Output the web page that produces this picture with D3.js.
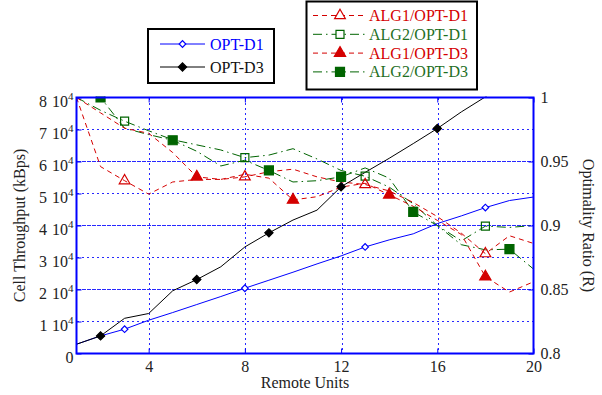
<!DOCTYPE html>
<meta charset="utf-8">
<script src="https://d3js.org/d3.v7.min.js"></script>
<style>
  body { margin: 0; background: #fff; }
  text { font-family: "Liberation Serif", "Times New Roman", serif; font-size: 16px; }
</style>
<div id="chart"></div>
<script>
// remote units (x) and the six series
const units  = [1, 2, 3, 4, 5, 6, 7, 8, 9, 10, 11, 12, 13, 14, 15, 16, 17, 18, 19, 20];
const optD1  = [2900, 5500, 7600, 10400, 12800, 15300, 17800, 20400, 22900, 25400, 28000, 30500, 33300, 35500, 37400, 40600, 43000, 45600, 47800, 48900];
const optD3  = [2900, 5500, 11000, 12500, 19600, 23100, 27100, 33300, 37700, 41700, 44800, 52100, 56600, 61000, 65600, 70300, 75500, 80200, 85000, 90000];
const alg1D1 = [1.0, 0.946, 0.935, 0.9245, 0.934, 0.936, 0.936, 0.938, 0.942, 0.944, 0.938, 0.934, 0.932, 0.927, 0.918, 0.907, 0.894, 0.878, 0.892, 0.886];
const alg2D1 = [1.0, 0.99, 0.9815, 0.974, 0.967, 0.963, 0.959, 0.953, 0.955, 0.96, 0.952, 0.943, 0.9385, 0.93, 0.917, 0.9, 0.888, 0.8995, 0.8985, 0.9];
const alg1D3 = [1.0, 0.988, 0.976, 0.972, 0.957, 0.938, 0.936, 0.94, 0.937, 0.92, 0.9225, 0.93, 0.933, 0.924, 0.915, 0.904, 0.893, 0.86, 0.848, 0.856];
const alg2D3 = [1.0, 1.0, 0.976, 0.971, 0.9666, 0.958, 0.9465, 0.951, 0.943, 0.934, 0.935, 0.938, 0.945, 0.937, 0.9106, 0.9, 0.885, 0.881, 0.8815, 0.866];

// units that carry a marker for each series
const markOptD1 = [3, 8, 13, 18];
const markOptD3 = [2, 6, 9, 12, 16];
const markAlg1D1 = [3, 8, 13, 18];
const markAlg2D1 = [3, 8, 13, 18];
const markAlg1D3 = [6, 10, 14, 18];
const markAlg2D3 = [2, 5, 9, 12, 15, 19];

// ticks
const xTicks = [4, 8, 12, 16, 20];
const leftTicks = [0, 10000, 20000, 30000, 40000, 50000, 60000, 70000, 80000];
const rightTicks = [0.8, 0.85, 0.9, 0.95, 1];

const W = 602, H = 395;
const margin = {top: 97.5, right: 68.5, bottom: 41.5, left: 76.5},
    width = W - margin.left - margin.right,
    height = H - margin.top - margin.bottom;

const RED = "#d40000", GREEN = "#006400", GREEN_TXT = "#1f6f1f", BLUE = "#0000ff";

const svg = d3.select("#chart")
  .append("svg")
    .attr("width", W)
    .attr("height", H);

const g = svg.append("g")
    .attr("transform", `translate(${margin.left},${margin.top})`);

const x = d3.scaleLinear().domain([1, 20]).range([0, width]);
const yL = d3.scaleLinear().domain([0, 80000]).range([height, 0]);
const yR = d3.scaleLinear().domain([0.8, 1]).range([height, 0]);

// grid
const grid = g.append("g").attr("stroke", "#2828ff").attr("stroke-width", 1)
  .attr("shape-rendering", "crispEdges");
grid.selectAll(".gx").data(xTicks.filter(d => d < 20)).join("line")
    .attr("x1", d => Math.round(x(d)) + 0.5).attr("x2", d => Math.round(x(d)) + 0.5)
    .attr("y1", 0).attr("y2", height)
    .attr("stroke-dasharray", "2,3");
grid.selectAll(".gl").data(leftTicks.slice(1, -1)).join("line")
    .attr("x1", 0).attr("x2", width)
    .attr("y1", d => yL(d)).attr("y2", d => yL(d))
    .attr("stroke-dasharray", "2,3");
grid.selectAll(".gr").data(rightTicks.slice(1, -1)).join("line")
    .attr("x1", 0).attr("x2", width)
    .attr("y1", d => yR(d)).attr("y2", d => yR(d))
    .attr("stroke-dasharray", "2,3")
    .attr("stroke-dashoffset", 2.5);

// clip for the data
svg.append("defs").append("clipPath").attr("id", "plot")
  .append("rect").attr("x", -6).attr("y", -1).attr("width", width + 12).attr("height", height + 2);

const data = g.append("g").attr("clip-path", "url(#plot)");

function series(vals, scale, color, dash) {
  const line = d3.line().x((d, i) => x(units[i])).y(d => scale(d));
  data.append("path")
    .datum(vals)
    .attr("fill", "none")
    .attr("stroke", color)
    .attr("stroke-width", 1)
    .attr("stroke-dasharray", dash)
    .attr("d", line);
}

function markers(vals, scale, marks, type, size, fill, stroke, rot) {
  data.selectAll(null)
    .data(marks)
    .join("path")
      .attr("d", d3.symbol().type(type).size(size))
      .attr("transform", d => `translate(${x(d)},${scale(vals[units.indexOf(d)])}) rotate(${rot || 0})`)
      .attr("fill", fill)
      .attr("stroke", stroke)
      .attr("stroke-width", 1.2);
}

const DASH_RED = "5,4", DASH_GREEN = "9,4,1.5,4";

series(alg2D1, yR, GREEN, DASH_GREEN);
series(alg2D3, yR, GREEN, DASH_GREEN);
series(alg1D1, yR, RED, DASH_RED);
series(alg1D3, yR, RED, DASH_RED);
series(optD1, yL, BLUE, null);
series(optD3, yL, "#000", null);

markers(alg2D1, yR, markAlg2D1, d3.symbolSquare, 64, "none", GREEN);
markers(alg2D3, yR, markAlg2D3, d3.symbolSquare, 81, GREEN, GREEN);
markers(alg1D1, yR, markAlg1D1, d3.symbolTriangle, 50, "none", RED);
markers(alg1D3, yR, markAlg1D3, d3.symbolTriangle, 55, RED, RED);
markers(optD1, yL, markOptD1, d3.symbolSquare, 22, "#fff", BLUE, 45);
markers(optD3, yL, markOptD3, d3.symbolSquare, 34, "#000", "#000", 45);

// axes
const axL = g.append("g")
  .call(d3.axisLeft(yL).tickValues(leftTicks).tickSizeInner(-5).tickSizeOuter(0).tickPadding(3).tickFormat(""));
axL.selectAll(".tick text")
  .attr("dy", "0.55em")
  .each(function(d) {
    const t = d3.select(this);
    if (d === 0) { t.text("0"); return; }
    t.append("tspan").text(String(d / 10000));
    t.append("tspan").attr("dx", 5).text("10");
    t.append("tspan").attr("font-size", "11px").attr("dy", "-0.6em").text("4");
  });

const axR = g.append("g")
  .attr("transform", `translate(${width},0)`)
  .call(d3.axisRight(yR).tickValues(rightTicks).tickSizeInner(-5).tickSizeOuter(0).tickPadding(7)
    .tickFormat(d => String(+d.toFixed(2))));
axR.selectAll(".tick text").attr("dy", "0.32em");

const axB = g.append("g")
  .attr("transform", `translate(0,${height})`)
  .call(d3.axisBottom(x).tickValues(xTicks).tickSizeInner(-5).tickSizeOuter(0).tickPadding(7).tickFormat(d3.format("d")));

const axT = g.append("g")
  .call(d3.axisTop(x).tickValues(xTicks).tickSizeInner(-5).tickSizeOuter(0).tickFormat(""));

[axL, axR, axB, axT].forEach(a => {
  a.select(".domain").remove();
  a.selectAll(".tick line").attr("stroke", BLUE);
  a.selectAll(".tick text").attr("fill", "#222").style("font-size", "16px")
    .style("font-family", '"Liberation Serif", "Times New Roman", serif');
});

// frame
g.append("rect")
  .attr("width", width).attr("height", height)
  .attr("fill", "none").attr("stroke", BLUE).attr("stroke-width", 2);

// axis titles
svg.append("text")
  .attr("transform", `translate(25,${margin.top + height / 2}) rotate(-90)`)
  .attr("text-anchor", "middle").attr("fill", "#222")
  .text("Cell Throughput (kBps)");
svg.append("text")
  .attr("transform", `translate(583,${margin.top + height / 2}) rotate(90)`)
  .attr("text-anchor", "middle").attr("fill", "#222")
  .text("Optimality Ratio (R)");
svg.append("text")
  .attr("x", margin.left + width / 2).attr("y", 388)
  .attr("text-anchor", "middle").attr("fill", "#222")
  .text("Remote Units");

// legend 1
const leg1 = svg.append("g");
leg1.append("rect").attr("x", 148).attr("y", 29).attr("width", 126).attr("height", 54)
  .attr("fill", "#fff").attr("stroke", "#000").attr("stroke-width", 2);
const leg1Items = [
  {name: "OPT-D1", color: BLUE, fill: "#fff", size: 22},
  {name: "OPT-D3", color: "#000", fill: "#000", size: 34}
];
leg1Items.forEach((d, i) => {
  const yy = 44 + i * 23;
  leg1.append("line").attr("x1", 160).attr("x2", 205).attr("y1", yy).attr("y2", yy)
    .attr("stroke", d.color).attr("stroke-width", 1);
  leg1.append("path").attr("d", d3.symbol().type(d3.symbolSquare).size(d.size))
    .attr("transform", `translate(182.5,${yy}) rotate(45)`)
    .attr("fill", d.fill).attr("stroke", d.color).attr("stroke-width", 1.2);
  leg1.append("text").attr("x", 210).attr("y", yy + 5.5).attr("fill", d.color === BLUE ? BLUE : "#111").text(d.name);
});

// legend 2
const leg2 = svg.append("g");
leg2.append("rect").attr("x", 306.5).attr("y", 1.5).attr("width", 170.5).attr("height", 88)
  .attr("fill", "#fff").attr("stroke", "#000").attr("stroke-width", 2);
const leg2Items = [
  {name: "ALG1/OPT-D1", color: RED, txt: RED, dash: DASH_RED, type: d3.symbolTriangle, size: 50, fill: "none"},
  {name: "ALG2/OPT-D1", color: GREEN, txt: GREEN_TXT, dash: DASH_GREEN, type: d3.symbolSquare, size: 64, fill: "none"},
  {name: "ALG1/OPT-D3", color: RED, txt: RED, dash: DASH_RED, type: d3.symbolTriangle, size: 55, fill: RED},
  {name: "ALG2/OPT-D3", color: GREEN, txt: GREEN_TXT, dash: DASH_GREEN, type: d3.symbolSquare, size: 81, fill: GREEN}
];
leg2Items.forEach((d, i) => {
  const yy = 15.5 + i * 18.8;
  leg2.append("line").attr("x1", 313).attr("x2", 366).attr("y1", yy).attr("y2", yy)
    .attr("stroke", d.color).attr("stroke-width", 1).attr("stroke-dasharray", d.dash);
  leg2.append("path").attr("d", d3.symbol().type(d.type).size(d.size))
    .attr("transform", `translate(340,${yy})`)
    .attr("fill", d.fill === "none" ? "#fff" : d.fill).attr("stroke", d.color).attr("stroke-width", 1.2);
  leg2.append("text").attr("x", 369).attr("y", yy + 5.5).attr("fill", d.txt).text(d.name);
});
</script>
